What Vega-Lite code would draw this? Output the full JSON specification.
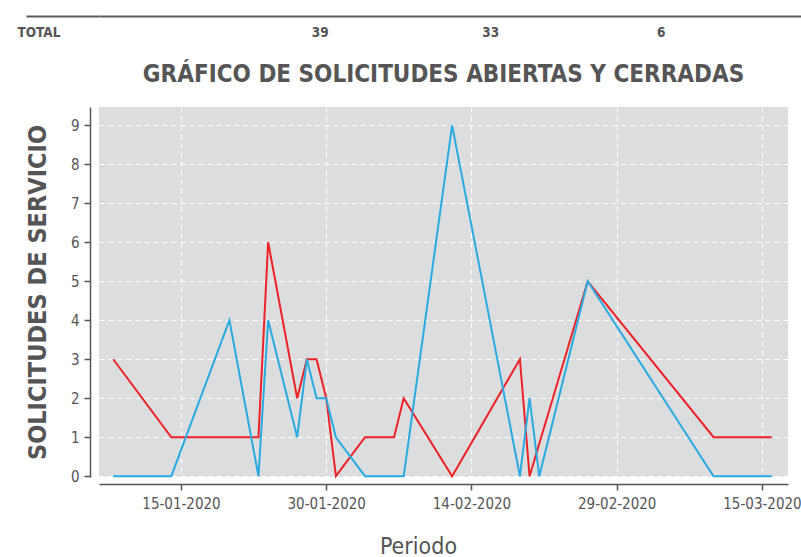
{
  "$schema": "https://vega.github.io/schema/vega-lite/v6.json",
  "padding": {"left": 17, "top": 15, "right": 0, "bottom": 0},
  "background": "white",
  "spacing": 14,
  "config": {
    "view": {"stroke": null},
    "font": "DejaVu Sans Condensed, DejaVu Sans, sans-serif"
  },
  "vconcat": [
    {
      "width": 702,
      "height": 33,
      "data": {
        "values": [
          {"fila": "TOTAL", "columna": "Abiertas", "total": 39},
          {"fila": "TOTAL", "columna": "Cerradas", "total": 33},
          {"fila": "TOTAL", "columna": "Pendientes", "total": 6}
        ]
      },
      "mark": {"type": "text", "fontSize": 13.5, "fontWeight": "bold", "color": "#555555"},
      "encoding": {
        "x": {
          "field": "columna",
          "type": "nominal",
          "scale": {"type": "band", "domain": ["Abiertas", "Cerradas", "Pendientes"], "paddingInner": 0, "paddingOuter": 0.559, "align": 0.714},
          "axis": {"orient": "top", "title": null, "labels": false, "ticks": false, "domain": true, "domainColor": "#5a5a5a", "domainWidth": 2, "grid": false}
        },
        "y": {
          "field": "fila",
          "type": "nominal",
          "scale": {"type": "band", "paddingInner": 0, "paddingOuter": 0},
          "axis": {"title": null, "tickBand": "center", "tickOffset": -16.5, "labelOffset": 16.5, "labelAlign": "left", "labelBaseline": "middle", "labelPadding": 9, "ticks": true, "tickSize": 73, "tickColor": "#5a5a5a", "tickWidth": 2, "domain": false, "labelFontSize": 13.5, "labelFontWeight": "bold", "labelColor": "#555555"}
        },
        "text": {"field": "total", "type": "quantitative"}
      }
    },
    {
      "width": 689,
      "height": 370,
      "view": {"fill": "#dcdddf", "stroke": null},
      "title": {"text": "GRÁFICO DE SOLICITUDES ABIERTAS Y CERRADAS", "fontSize": 24, "fontWeight": "bold", "color": "#555555", "anchor": "middle", "offset": 20},
      "data": {
        "values": [
          {"fecha": "2020-01-08", "serie": "Abiertas", "valor": 3},
          {"fecha": "2020-01-14", "serie": "Abiertas", "valor": 1},
          {"fecha": "2020-01-23", "serie": "Abiertas", "valor": 1},
          {"fecha": "2020-01-24", "serie": "Abiertas", "valor": 6},
          {"fecha": "2020-01-27", "serie": "Abiertas", "valor": 2},
          {"fecha": "2020-01-28", "serie": "Abiertas", "valor": 3},
          {"fecha": "2020-01-29", "serie": "Abiertas", "valor": 3},
          {"fecha": "2020-01-30", "serie": "Abiertas", "valor": 2},
          {"fecha": "2020-01-31", "serie": "Abiertas", "valor": 0},
          {"fecha": "2020-02-03", "serie": "Abiertas", "valor": 1},
          {"fecha": "2020-02-06", "serie": "Abiertas", "valor": 1},
          {"fecha": "2020-02-07", "serie": "Abiertas", "valor": 2},
          {"fecha": "2020-02-12", "serie": "Abiertas", "valor": 0},
          {"fecha": "2020-02-19", "serie": "Abiertas", "valor": 3},
          {"fecha": "2020-02-20", "serie": "Abiertas", "valor": 0},
          {"fecha": "2020-02-26", "serie": "Abiertas", "valor": 5},
          {"fecha": "2020-03-10", "serie": "Abiertas", "valor": 1},
          {"fecha": "2020-03-16", "serie": "Abiertas", "valor": 1},
          {"fecha": "2020-01-08", "serie": "Cerradas", "valor": 0},
          {"fecha": "2020-01-14", "serie": "Cerradas", "valor": 0},
          {"fecha": "2020-01-20", "serie": "Cerradas", "valor": 4},
          {"fecha": "2020-01-23", "serie": "Cerradas", "valor": 0},
          {"fecha": "2020-01-24", "serie": "Cerradas", "valor": 4},
          {"fecha": "2020-01-27", "serie": "Cerradas", "valor": 1},
          {"fecha": "2020-01-28", "serie": "Cerradas", "valor": 3},
          {"fecha": "2020-01-29", "serie": "Cerradas", "valor": 2},
          {"fecha": "2020-01-30", "serie": "Cerradas", "valor": 2},
          {"fecha": "2020-01-31", "serie": "Cerradas", "valor": 1},
          {"fecha": "2020-02-03", "serie": "Cerradas", "valor": 0},
          {"fecha": "2020-02-07", "serie": "Cerradas", "valor": 0},
          {"fecha": "2020-02-12", "serie": "Cerradas", "valor": 9},
          {"fecha": "2020-02-19", "serie": "Cerradas", "valor": 0},
          {"fecha": "2020-02-20", "serie": "Cerradas", "valor": 2},
          {"fecha": "2020-02-21", "serie": "Cerradas", "valor": 0},
          {"fecha": "2020-02-26", "serie": "Cerradas", "valor": 5},
          {"fecha": "2020-03-10", "serie": "Cerradas", "valor": 0},
          {"fecha": "2020-03-16", "serie": "Cerradas", "valor": 0}
        ]
      },
      "mark": {"type": "line", "strokeWidth": 2},
      "encoding": {
        "x": {
          "field": "fecha",
          "type": "temporal",
          "scale": {
            "type": "utc",
            "domain": [
              {"year": 2020, "month": 1, "date": 6, "hours": 12, "minutes": 46, "utc": true},
              {"year": 2020, "month": 3, "date": 17, "hours": 16, "minutes": 31, "utc": true}
            ]
          },
          "axis": {
            "values": [
              {"year": 2020, "month": 1, "date": 15, "utc": true},
              {"year": 2020, "month": 1, "date": 30, "utc": true},
              {"year": 2020, "month": 2, "date": 14, "utc": true},
              {"year": 2020, "month": 2, "date": 29, "utc": true},
              {"year": 2020, "month": 3, "date": 15, "utc": true}
            ],
            "format": "%d-%m-%Y",
            "title": "Periodo",
            "titleX": 319,
            "offset": 7,
            "tickSize": 6,
            "tickColor": "#555555",
            "tickWidth": 1.5,
            "domainColor": "#555555",
            "domainWidth": 1.5,
            "labelFontSize": 15,
            "labelColor": "#555555",
            "labelPadding": 6,
            "labelFlush": false,
            "titleFontSize": 23,
            "titleFontWeight": "normal",
            "titleColor": "#555555",
            "titlePadding": 24,
            "grid": true,
            "gridColor": "#ffffff",
            "gridDash": [5, 4],
            "gridWidth": 1
          }
        },
        "y": {
          "field": "valor",
          "type": "quantitative",
          "scale": {"domain": [-0.02, 9.47], "nice": false, "zero": false},
          "axis": {
            "values": [0, 1, 2, 3, 4, 5, 6, 7, 8, 9],
            "title": "SOLICITUDES DE SERVICIO",
            "offset": 9,
            "tickSize": 6,
            "tickColor": "#555555",
            "tickWidth": 1.5,
            "domainColor": "#555555",
            "domainWidth": 1.5,
            "labelFontSize": 15,
            "labelColor": "#555555",
            "labelPadding": 5,
            "titleFontSize": 25,
            "titleFontWeight": "bold",
            "titleColor": "#555555",
            "titlePadding": 20,
            "grid": true,
            "gridColor": "#ffffff",
            "gridDash": [5, 4],
            "gridWidth": 1
          }
        },
        "color": {
          "field": "serie",
          "type": "nominal",
          "scale": {"domain": ["Abiertas", "Cerradas"], "range": ["#ec2227", "#29abe2"]},
          "legend": null
        }
      }
    }
  ]
}
